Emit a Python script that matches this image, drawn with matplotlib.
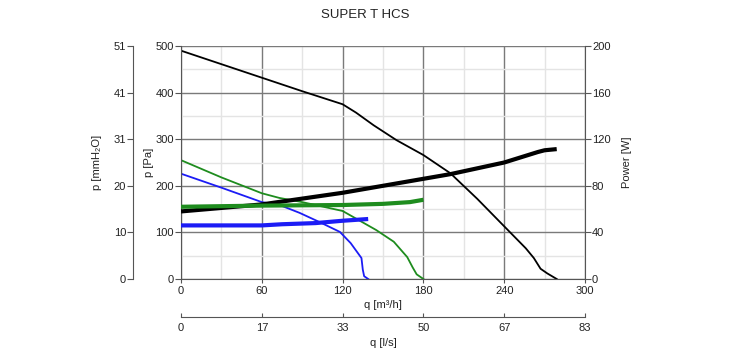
import numpy as np
import matplotlib
matplotlib.use('Agg')
import matplotlib.pyplot as plt
from matplotlib.ticker import MultipleLocator

plt.rcParams['font.family'] = ['Liberation Sans', 'DejaVu Sans']

# pressure curves (q in m3/h, p in Pa)
q_black = [0, 30, 60, 90, 120, 130, 143, 160, 180, 200, 220, 239, 256, 262, 267, 272, 279]
p_black = [490, 461, 432, 403, 375, 357, 330, 298, 266, 227, 172, 116, 66, 45, 22, 12, 0]
q_green = [0, 30, 60, 73, 90, 120, 145, 158, 168, 172, 175, 180]
p_green = [255, 218, 184, 174, 165, 146, 105, 80, 47, 25, 10, 0]
q_blue = [0, 30, 60, 73, 88, 103, 118, 126, 134, 135, 136, 139]
p_blue = [226, 196, 165, 159, 142, 122, 101, 77, 45, 20, 6, 0]

# power curves (W)
qw_black = [0, 60, 120, 180, 200, 240, 265, 270, 279]
w_black = [58, 64, 74, 86, 90, 100, 109, 110.5, 111.5]
qw_green = [0, 60, 120, 150, 170, 180]
w_green = [62, 63, 63.5, 64.5, 66, 68]
qw_blue = [0, 60, 75, 100, 120, 139]
w_blue = [46, 46, 47, 48, 50, 51.5]

pa_ticks = [0, 100, 200, 300, 400, 500]
mm_labels = ['0', '10', '20', '31', '41', '51']
q_ticks = [0, 60, 120, 180, 240, 300]
ls_labels = ['0', '17', '33', '50', '67', '83']

spine_col = '#555555'
txt = '#222222'
green = '#1e8c1e'
blue = '#1c1cf5'
fs = 8

fig = plt.figure(figsize=(7.3, 3.56), dpi=100)
ax = fig.add_axes([181/730, 1-279/356, 404/730, 233/356])

ax.plot(q_black, p_black, color='black', lw=1.3)
ax.plot(q_green, p_green, color=green, lw=1.3)
ax.plot(q_blue, p_blue, color=blue, lw=1.3)

ax.set_xlim(0, 300)
ax.set_ylim(0, 500)
ax.set_xticks(q_ticks)
ax.set_yticks(pa_ticks)
ax.xaxis.set_minor_locator(MultipleLocator(30))
ax.yaxis.set_minor_locator(MultipleLocator(50))
ax.grid(which='major', color='#7a7a7a', lw=1.0)
ax.grid(which='minor', color='#e4e4e4', lw=1.0)
ax.set_axisbelow(True)
for s in ['top', 'right']:
    ax.spines[s].set_visible(False)
for s in ['left', 'bottom']:
    ax.spines[s].set_color(spine_col)
ax.tick_params(axis='y', colors=spine_col, labelcolor=txt, labelsize=fs, length=4, pad=1)
ax.tick_params(axis='x', colors=spine_col, labelcolor=txt, labelsize=fs, length=3, pad=2)
ax.tick_params(which='minor', length=0)
ax.set_ylabel('p [Pa]', fontsize=fs, color=txt, labelpad=1)
ax.set_xlabel('q [m³/h]', fontsize=fs, color=txt, labelpad=3)

# power axis on the right
axw = ax.twinx()
axw.plot(qw_black, w_black, color='black', lw=3.0, solid_capstyle='butt')
axw.plot(qw_green, w_green, color=green, lw=3.0, solid_capstyle='butt')
axw.plot(qw_blue, w_blue, color=blue, lw=3.0, solid_capstyle='butt')
axw.set_ylim(0, 200)
axw.set_yticks([0, 40, 80, 120, 160, 200])
for s in ['top', 'left', 'bottom']:
    axw.spines[s].set_visible(False)
axw.spines['right'].set_color(spine_col)
axw.tick_params(colors=spine_col, labelcolor=txt, labelsize=fs, length=4, pad=1)
axw.set_ylabel('Power [W]', fontsize=fs, color=txt, labelpad=8)

# mmH2O axis on the left
axm = ax.twinx()
axm.yaxis.set_ticks_position('left')
axm.yaxis.set_label_position('left')
axm.spines['left'].set_position(('axes', -48/404))
for s in ['top', 'right', 'bottom']:
    axm.spines[s].set_visible(False)
axm.spines['left'].set_color(spine_col)
axm.set_ylim(0, 500)
axm.set_yticks(pa_ticks)
axm.set_yticklabels(mm_labels)
axm.tick_params(colors=spine_col, labelcolor=txt, labelsize=fs, length=4, pad=1)
axm.set_ylabel('p [mmH₂O]', fontsize=fs, color=txt, labelpad=8)

# l/s axis at the bottom
axl = ax.twiny()
axl.xaxis.set_ticks_position('bottom')
axl.xaxis.set_label_position('bottom')
axl.spines['bottom'].set_position(('axes', -38/233))
for s in ['top', 'right', 'left']:
    axl.spines[s].set_visible(False)
axl.spines['bottom'].set_color(spine_col)
axl.set_xlim(0, 300)
axl.set_xticks(q_ticks)
axl.set_xticklabels(ls_labels)
axl.tick_params(direction='in', colors=spine_col, labelcolor=txt, labelsize=fs, length=3, pad=4)
axl.set_xlabel('q [l/s]', fontsize=fs, color=txt, labelpad=4)

fig.text(365/730, 1-15/356, 'SUPER T HCS', ha='center', va='center', fontsize=9.5, color=txt)

fig.savefig('out.png', dpi=100)
